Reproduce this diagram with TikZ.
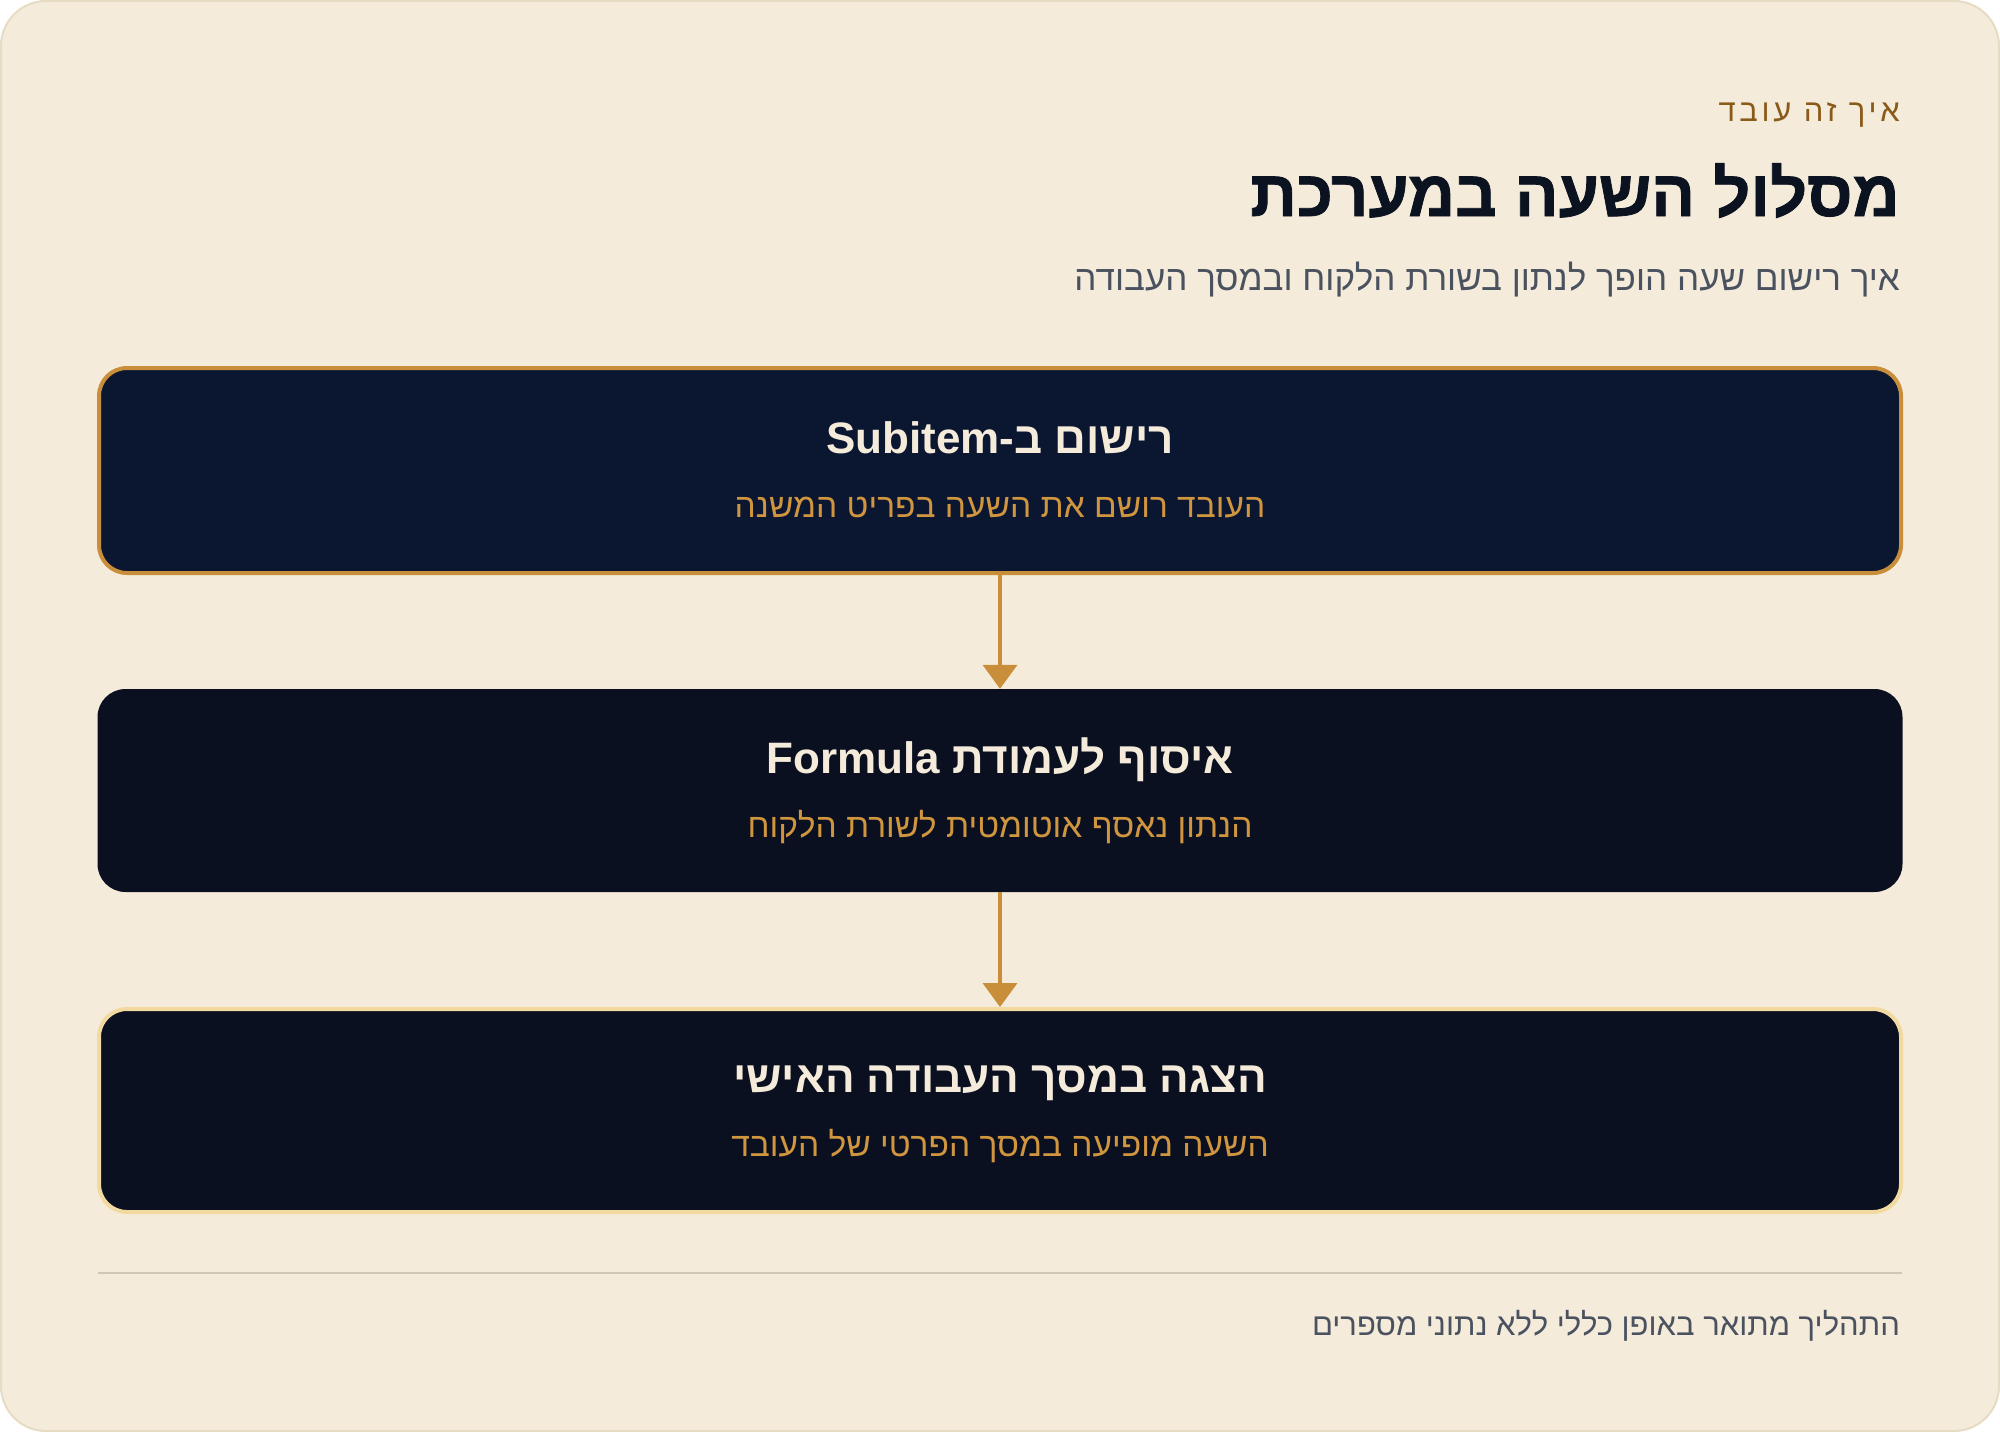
\documentclass[tikz,border=0pt]{standalone}
\usepackage{fontspec}
\usetikzlibrary{arrows.meta}
\TeXXeTstate=1
\newfontfamily\hebfont[Script=Hebrew]{Liberation Sans}
\newfontfamily\hebheavy[Script=Hebrew,FakeBold=1.2]{Liberation Sans}
\newfontfamily\hebkick[Script=Hebrew,LetterSpace=12]{Liberation Sans}
\definecolor{bgc}{HTML}{F5EBDA}
\definecolor{cardline}{HTML}{E6DCC3}
\definecolor{kickc}{HTML}{8A5A19}
\definecolor{titlec}{HTML}{0B1220}
\definecolor{grayc}{HTML}{4A5260}
\definecolor{navyA}{HTML}{0B1631}
\definecolor{navyB}{HTML}{0A1020}
\definecolor{goldc}{HTML}{C98E3A}
\definecolor{paleg}{HTML}{F2D9A0}
\definecolor{creamc}{HTML}{F5EBDB}
\definecolor{subgold}{HTML}{D0953F}
\definecolor{divc}{HTML}{CFC7B8}
\tikzset{
  boxbase/.style={rectangle, rounded corners=28pt, minimum width=1802pt, inner sep=0pt},
  boxtitle/.style={anchor=base, text=creamc, font=\hebfont\bfseries\fontsize{44}{52}\selectfont, inner sep=0pt},
  boxsub/.style={anchor=base, text=subgold, font=\hebfont\fontsize{33.5}{40}\selectfont, inner sep=0pt},
  arr/.style={draw=goldc, line width=4pt, -{Triangle[width=34pt,length=24pt]}},
}
\begin{document}
\begin{tikzpicture}[x=1pt,y=-1pt]
\useasboundingbox (0,0) rectangle (2000,1432);
\draw[fill=bgc, draw=cardline, line width=2pt, rounded corners=45pt] (1,1) rectangle (1999,1431);
% header
\node[anchor=base east, text=kickc, font=\hebkick\fontsize{31}{36}\selectfont, inner sep=0pt] (kick) at (1900,121) {\beginR איך זה עובד\endR};
\node[anchor=base east, text=titlec, font=\hebheavy\bfseries\fontsize{65}{76}\selectfont, inner sep=0pt] (title) at (1900,216) {\beginR מסלול השעה במערכת\endR};
\node[anchor=base east, text=grayc, font=\hebfont\fontsize{35}{42}\selectfont, inner sep=0pt] (subtitle) at (1900,290) {\beginR איך רישום שעה הופך לנתון בשורת הלקוח ובמסך העבודה\endR};
% boxes
\node[boxbase, fill=navyA, draw=goldc, line width=4pt, minimum height=205pt] (b1) at (1000,470.5) {};
\node[boxbase, fill=navyB, minimum height=203pt, minimum width=1805pt] (b2) at (1000,790.5) {};
\node[boxbase, fill=navyB, draw=paleg, line width=4pt, minimum height=203pt] (b3) at (1000,1110.5) {};
\node[boxtitle] (t1) at (1000,453) {\beginR רישום ב-\beginL Subitem\endL\endR};
\node[boxsub] (s1) at (1000,517) {\beginR העובד רושם את השעה בפריט המשנה\endR};
\node[boxtitle] (t2) at (1000,773) {\beginR איסוף לעמודת \beginL Formula\endL\endR};
\node[boxsub] (s2) at (1000,837) {\beginR הנתון נאסף אוטומטית לשורת הלקוח\endR};
\node[boxtitle] (t3) at (1000,1092) {\beginR הצגה במסך העבודה האישי\endR};
\node[boxsub] (s3) at (1000,1156) {\beginR השעה מופיעה במסך הפרטי של העובד\endR};
% arrows
\draw[arr] (b1.south) -- (b2.north);
\draw[arr] (b2.south) -- (b3.north);
% divider and footer
\coordinate (dl) at (98,1273);
\coordinate (dr) at (1902,1273);
\draw[divc, line width=2.5pt] (dl) -- (dr);
\node[anchor=base east, text=grayc, font=\hebfont\fontsize{31}{36}\selectfont, inner sep=0pt] (foot) at (1900,1335) {\beginR התהליך מתואר באופן כללי ללא נתוני מספרים\endR};
\end{tikzpicture}
\end{document}
